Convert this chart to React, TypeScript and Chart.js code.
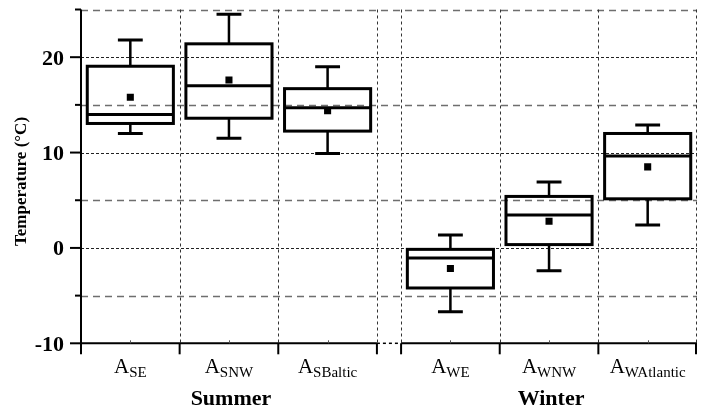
import { useEffect, useRef } from 'react';
import { Chart, registerables } from 'chart.js';

Chart.register(...registerables);

// ---- data ----
const labelMain = 'A';
const subscripts = ['SE', 'SNW', 'SBaltic', 'WE', 'WNW', 'WAtlantic'];
const groupNames = ['Summer', 'Winter'];
const groupOf = [0, 0, 0, 1, 1, 1];
const whiskerLow = [12.0, 11.5, 9.9, -6.7, -2.4, 2.4];
const q1 = [13.05, 13.6, 12.25, -4.2, 0.35, 5.15];
const median = [14.0, 17.0, 14.7, -1.05, 3.45, 9.65];
const q3 = [19.05, 21.4, 16.7, -0.15, 5.4, 12.0];
const whiskerHigh = [21.8, 24.5, 19.0, 1.35, 6.9, 12.9];
const mean = [15.8, 17.6, 14.4, -2.15, 2.8, 8.5];
const yMajorTicks = [-10, 0, 10, 20];
const yMinorTicks = [-5, 5, 15, 25];
const Y_MIN = -10;
const Y_MAX = 25;

// layout helpers
const GAP = 0.245;
const xPos = (i: number) => i + 0.5 + groupOf[i] * GAP;
const X_MAX = subscripts.length + GAP;
const BOX_HALF = 0.4365;
const CAP_HALF = 0.126;
const FONT = '"Liberation Serif", "Times New Roman", serif';

const boundaries = (): number[] => {
  const b: number[] = [];
  subscripts.forEach((_, i) => b.push(xPos(i) - 0.5));
  b.push(xPos(subscripts.length - 1) + 0.5);
  // gap start (end of summer)
  b.push(3);
  return b;
};

const boxPlugin = {
  id: 'boxPlugin',
  beforeDatasetsDraw(chart: any) {
    const { ctx, chartArea: a, scales } = chart;
    const x = scales.x;
    const y = scales.y;
    ctx.save();
    // horizontal dashed grey (minor)
    ctx.strokeStyle = '#6e6e6e';
    ctx.lineWidth = 1.5;
    ctx.setLineDash([7, 5]);
    yMinorTicks.forEach((v) => {
      const py = Math.round(y.getPixelForValue(v)) + 0.5;
      ctx.beginPath();
      ctx.moveTo(a.left, py);
      ctx.lineTo(a.right, py);
      ctx.stroke();
    });
    // horizontal dotted (major)
    ctx.strokeStyle = '#222';
    ctx.lineWidth = 1;
    ctx.setLineDash([3, 2]);
    yMajorTicks.forEach((v) => {
      if (v === Y_MIN) return;
      const py = Math.round(y.getPixelForValue(v)) + 0.5;
      ctx.beginPath();
      ctx.moveTo(a.left, py);
      ctx.lineTo(a.right, py);
      ctx.stroke();
    });
    // vertical dotted
    ctx.setLineDash([3, 3]);
    ctx.strokeStyle = '#333';
    const top = y.getPixelForValue(Y_MAX);
    const bot = y.getPixelForValue(Y_MIN);
    boundaries().forEach((bv) => {
      if (bv <= 0.001) return;
      let px = Math.round(x.getPixelForValue(bv)) + 0.5;
      if (px > a.right) px = a.right - 0.5;
      ctx.beginPath();
      ctx.moveTo(px, top);
      ctx.lineTo(px, bot);
      ctx.stroke();
    });
    ctx.setLineDash([]);

    // axes
    ctx.strokeStyle = '#000';
    ctx.lineWidth = 2;
    const ax = x.getPixelForValue(0);
    ctx.beginPath();
    ctx.moveTo(ax, top);
    ctx.lineTo(ax, bot + 1);
    ctx.stroke();
    // x axis: summer solid, gap dotted, winter solid
    const sEnd = x.getPixelForValue(3);
    const wStart = x.getPixelForValue(3 + GAP);
    ctx.beginPath();
    ctx.moveTo(ax, bot);
    ctx.lineTo(sEnd, bot);
    ctx.moveTo(wStart, bot);
    ctx.lineTo(a.right, bot);
    ctx.stroke();
    ctx.lineWidth = 1.5;
    ctx.setLineDash([3, 3]);
    ctx.beginPath();
    ctx.moveTo(sEnd, bot);
    ctx.lineTo(wStart, bot);
    ctx.stroke();
    ctx.setLineDash([]);
    // x major ticks
    ctx.lineWidth = 2;
    boundaries().forEach((bv) => {
      let px = x.getPixelForValue(bv);
      if (px > a.right - 1) px = a.right - 1;
      ctx.beginPath();
      ctx.moveTo(px, bot);
      ctx.lineTo(px, bot + 11);
      ctx.stroke();
    });
    // x minor ticks
    ctx.lineWidth = 1;
    ctx.strokeStyle = '#555';
    subscripts.forEach((_, i) => {
      const px = Math.round(x.getPixelForValue(xPos(i))) + 0.5;
      ctx.beginPath();
      ctx.moveTo(px, bot);
      ctx.lineTo(px, bot - 3);
      ctx.stroke();
    });
    // y ticks
    ctx.strokeStyle = '#000';
    ctx.lineWidth = 2;
    yMajorTicks.forEach((v) => {
      const py = y.getPixelForValue(v);
      ctx.beginPath();
      ctx.moveTo(ax - 11, py);
      ctx.lineTo(ax, py);
      ctx.stroke();
    });
    yMinorTicks.forEach((v) => {
      const py = y.getPixelForValue(v);
      ctx.beginPath();
      ctx.moveTo(ax - 6, py);
      ctx.lineTo(ax, py);
      ctx.stroke();
    });

    // boxes
    subscripts.forEach((_, i) => {
      const cx = x.getPixelForValue(xPos(i));
      const l = x.getPixelForValue(xPos(i) - BOX_HALF);
      const r = x.getPixelForValue(xPos(i) + BOX_HALF);
      const cl = x.getPixelForValue(xPos(i) - CAP_HALF);
      const cr = x.getPixelForValue(xPos(i) + CAP_HALF);
      const yq1 = y.getPixelForValue(q1[i]);
      const yq3 = y.getPixelForValue(q3[i]);
      const ym = y.getPixelForValue(median[i]);
      const ylo = y.getPixelForValue(whiskerLow[i]);
      const yhi = y.getPixelForValue(whiskerHigh[i]);
      ctx.strokeStyle = '#000';
      // whiskers
      ctx.lineWidth = 2.5;
      ctx.beginPath();
      ctx.moveTo(cx, yq3);
      ctx.lineTo(cx, yhi);
      ctx.moveTo(cx, yq1);
      ctx.lineTo(cx, ylo);
      ctx.stroke();
      ctx.lineWidth = 3;
      ctx.beginPath();
      ctx.moveTo(cl, yhi);
      ctx.lineTo(cr, yhi);
      ctx.moveTo(cl, ylo);
      ctx.lineTo(cr, ylo);
      ctx.stroke();
      // box
      ctx.lineWidth = 3;
      ctx.strokeRect(l, yq3, r - l, yq1 - yq3);
      // median
      ctx.beginPath();
      ctx.moveTo(l, ym);
      ctx.lineTo(r, ym);
      ctx.stroke();
    });
    ctx.restore();
  },
  afterDraw(chart: any) {
    const { ctx, scales } = chart;
    const x = scales.x;
    const y = scales.y;
    const ax = x.getPixelForValue(0);
    const bot = y.getPixelForValue(Y_MIN);
    ctx.save();
    ctx.fillStyle = '#000';
    // y tick labels
    ctx.font = `bold 22px ${FONT}`;
    ctx.textAlign = 'right';
    ctx.textBaseline = 'alphabetic';
    yMajorTicks.forEach((v) => {
      const py = y.getPixelForValue(v);
      ctx.fillText(String(v), ax - 17, py + 7.5);
    });
    // x category labels with subscripts
    const mainFont = `21px ${FONT}`;
    const subFont = `15px ${FONT}`;
    ctx.textAlign = 'left';
    subscripts.forEach((s, i) => {
      ctx.font = mainFont;
      const wA = ctx.measureText(labelMain).width;
      ctx.font = subFont;
      const wS = ctx.measureText(s).width;
      const cx = x.getPixelForValue(xPos(i));
      const start = cx - (wA + wS) / 2;
      ctx.font = mainFont;
      ctx.fillText(labelMain, start, bot + 30);
      ctx.font = subFont;
      ctx.fillText(s, start + wA, bot + 34);
    });
    // group labels
    ctx.font = `bold 22px ${FONT}`;
    ctx.textAlign = 'center';
    groupNames.forEach((g, gi) => {
      const idx = groupOf.indexOf(gi) + 1;
      const cx = x.getPixelForValue(xPos(idx));
      ctx.fillText(g, cx + 2, bot + 62);
    });
    // y title
    ctx.font = `bold 17px ${FONT}`;
    ctx.translate(26, 181.5);
    ctx.rotate(-Math.PI / 2);
    ctx.textAlign = 'center';
    ctx.fillText('Temperature (\u00B0C)', 0, 0);
    ctx.restore();
  },
};

export default function App() {
  const ref = useRef<HTMLCanvasElement>(null);
  useEffect(() => {
    if (!ref.current) return;
    const chart = new Chart(ref.current, {
      type: 'scatter',
      data: {
        datasets: [
          {
            label: 'Mean',
            data: mean.map((m, i) => ({ x: xPos(i), y: m })),
            pointStyle: 'rect',
            pointRadius: 5,
            pointHoverRadius: 5,
            backgroundColor: '#000',
            borderColor: '#000',
            borderWidth: 0,
          },
        ],
      },
      options: {
        responsive: false,
        animation: false,
        devicePixelRatio: 1,
        layout: { padding: { left: 81, right: 1, top: 9.5, bottom: 67.7 } },
        plugins: { legend: { display: false }, tooltip: { enabled: false } },
        scales: {
          x: { type: 'linear', min: 0, max: X_MAX, display: false },
          y: { type: 'linear', min: Y_MIN, max: Y_MAX, display: false },
        },
      },
      plugins: [boxPlugin],
    });
    return () => chart.destroy();
  }, []);
  return (
    <div style={{ position: 'absolute', left: 0, top: 0, width: 702, height: 411, background: '#fff' }}>
      <canvas ref={ref} width={702} height={411} style={{ display: 'block' }} />
    </div>
  );
}
